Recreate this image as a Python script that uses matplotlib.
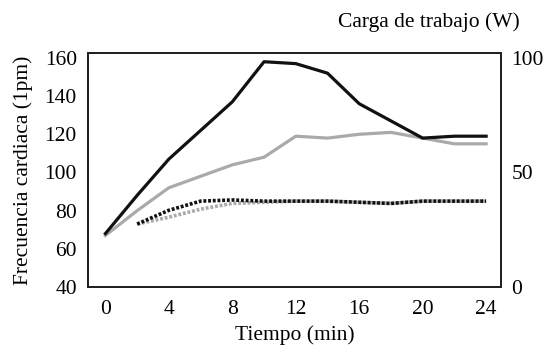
import matplotlib
matplotlib.use("Agg")
import matplotlib.pyplot as plt

plt.rcParams['font.family'] = ['Liberation Serif', 'DejaVu Serif']

# Time (min)
tiempo = [0, 2, 4, 6, 8, 10, 12, 14, 16, 18, 20, 22, 24]
# Heart rate (lpm), two subjects
fc_negro = [68, 88, 107, 122, 137, 158, 157, 152, 136, 127, 118, 119, 119]
fc_gris = [67, 80, 92, 98, 104, 108, 119, 118, 120, 121, 118, 115, 115]
# Workload (W), two subjects
tiempo_carga = [2, 4, 6, 8, 10, 12, 14, 16, 18, 20, 22, 24]
carga_negro = [27.5, 33.5, 37.5, 38, 37.5, 37.5, 37.5, 37, 36.5, 37.5, 37.5, 37.5]
carga_gris = [27.5, 30.5, 34, 36.5, 37, 37.5, 37.5, 37, 36.5, 37.5, 37.5, 37.5]

xticks = [0, 4, 8, 12, 16, 20, 24]
yticks_left = [40, 60, 80, 100, 120, 140, 160]
yticks_right = [0, 50, 100]

fig = plt.figure(figsize=(5.43, 3.45), dpi=100)
ax = fig.add_axes([0.162, 0.168, 0.761, 0.678])
ax2 = ax.twinx()

ax.plot(tiempo, fc_gris, color='#aaaaaa', lw=2.3)
ax.plot(tiempo, fc_negro, color='#111111', lw=2.3)
ax2.plot(tiempo_carga, carga_gris, color='#aaaaaa', lw=2.6, ls=(0, (0.8, 0.5)))
ax2.plot(tiempo_carga, carga_negro, color='#111111', lw=2.6, ls=(0, (0.8, 0.5)))

ax.set_xlim(-1.1, 24.95)
ax.set_ylim(40, 162.5)
ax2.set_ylim(0, 102.1)

ax.set_xticks(xticks)
ax.set_yticks(yticks_left)
ax2.set_yticks(yticks_right)

fs = 15.5
ax.tick_params(axis='both', length=0, labelsize=fs, pad=8)
ax.tick_params(axis='x', pad=9)
ax2.tick_params(axis='y', length=0, labelsize=fs, pad=7.5)

for a in (ax, ax2):
    for s in a.spines.values():
        s.set_linewidth(1.4)
        s.set_color('#222222')

ax.set_xlabel('Tiempo (min)', fontsize=fs, labelpad=5)
ax.set_ylabel('Frecuencia cardiaca (1pm)', fontsize=fs, labelpad=8)
fig.text(0.958, 0.935, 'Carga de trabajo (W)', fontsize=fs, ha='right', va='center')

fig.savefig('out.png', dpi=100)
